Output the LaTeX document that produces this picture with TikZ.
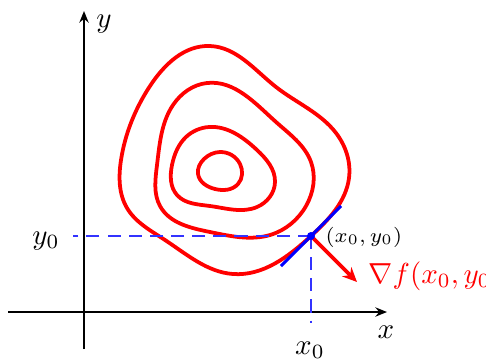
\documentclass[tikz,border=0pt]{standalone}
\usetikzlibrary{arrows.meta,hobby}
\begin{document}
\begin{tikzpicture}[x=0.345pt,y=-0.345pt,
  axis/.style={line width=0.8pt,-{Stealth[length=4pt,width=3.2pt]}},
  contour/.style={red,line width=1.3pt,use Hobby shortcut,closed=true},
  guide/.style={blue!80,line width=0.4pt,dash pattern=on 4.5pt off 2.8pt},
  tangent/.style={blue,line width=1pt},
  grad/.style={red,line width=1.3pt,-{Stealth[length=5pt,width=4.5pt]}},
  lab/.style={inner sep=0pt}]
\useasboundingbox (0,0) rectangle (486,358);
% axes
\coordinate (xs) at (8,312);
\coordinate (xe) at (387,312);
\coordinate (ys) at (84,349);
\coordinate (ye) at (84,11);
\draw[axis] (xs) -- (xe);
\draw[axis] (ys) -- (ye);
\node[lab,anchor=base] (ylab) at (104,27.5) {$y$};
\node[lab,anchor=base] (xlab) at (386,338.5) {$x$};
% contours
\draw[contour] (210,46) .. (276,87) .. (336,133) .. (349,178) .. (311,236) .. (233,274)
  .. (165,240) .. (127,208) .. (121,160) .. (150,86);
\draw[contour] (207,83) .. (276,122) .. (311,162) .. (306,206) .. (270,235) .. (210,232)
  .. (160,206) .. (157,165) .. (173,105);
\draw[contour] (209,127) .. (257,150) .. (275,182) .. (257,207) .. (210,206) .. (177,195)
  .. (172,165) .. (186,137);
\draw[contour] (220,152) .. (240,164) .. (238,184) .. (215,189) .. (198,174) .. (204,159);
% point and guides
\coordinate (p) at (311,236);
\coordinate (gy) at (73,236);
\coordinate (gx) at (311,323);
\draw[guide] (p) -- (gy);
\draw[guide] (p) -- (gx);
\node[lab,anchor=base] (y0lab) at (46,244) {$y_0$};
\node[lab,anchor=base] (x0lab) at (310,354.5) {$x_0$};
\coordinate (t1) at (281,266);
\coordinate (t2) at (341,206);
\draw[tangent] (t1) -- (t2);
\coordinate (g) at (357,282);
\draw[grad] (p) -- (g);
\fill[blue] (p) circle[radius=4];
\node[lab,anchor=west] (plab) at (325,237) {\scriptsize$(x_0,y_0)$};
\node[lab,anchor=base west,red] (glab) at (368,283) {$\nabla f(x_0,y_0)$};
\end{tikzpicture}
\end{document}
